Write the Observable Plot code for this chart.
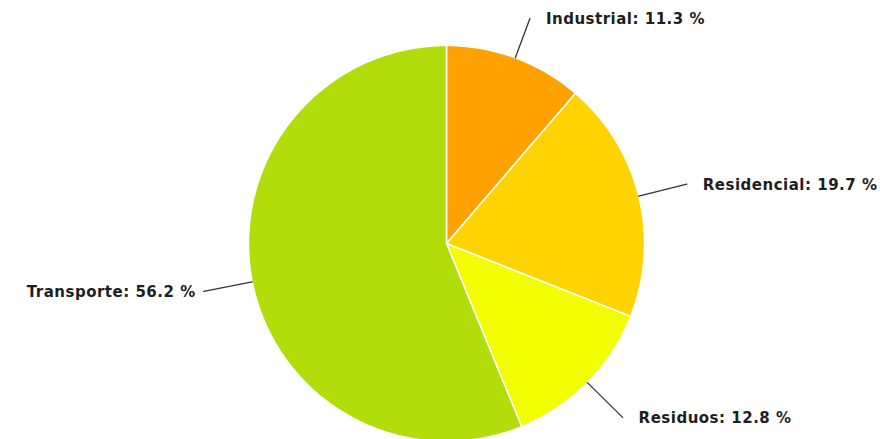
<!DOCTYPE html>
<html>
<head>
<meta charset="utf-8">
<script src="https://cdn.jsdelivr.net/npm/d3@7"></script>
<script src="https://cdn.jsdelivr.net/npm/@observablehq/plot@0.6"></script>
<style>
  html, body { margin: 0; padding: 0; background: #fff; }
  #chart svg { display: block; }
  #chart svg text { letter-spacing: 0.5px; }
</style>
</head>
<body>
<div id="chart"></div>
<script>
const categories = ["Industrial", "Residencial", "Residuos", "Transporte"];
const values = [11.3, 19.7, 12.8, 56.2];
const colors = ["#ffa200", "#ffd300", "#f3ff00", "#b1de0a"];

const R = 198, cx = 446, cy = 243, W = 880, H = 439;

// pie layout (clockwise from 12 o'clock, in data order)
const pie = d3.pie().sort(null).value(d => d.value);
const arcs = pie(categories.map((c, i) => ({name: c, value: values[i]})));

// slice polygons in unit-radius coordinates (y up)
const pt = (a, r) => [r * Math.sin(a), r * Math.cos(a)];
const slicePts = [];
arcs.forEach(a => {
  const n = Math.max(2, Math.ceil((a.endAngle - a.startAngle) / 0.01));
  slicePts.push({name: a.data.name, x: 0, y: 0});
  for (let k = 0; k <= n; k++) {
    const t = a.startAngle + (a.endAngle - a.startAngle) * k / n;
    const [x, y] = pt(t, 1);
    slicePts.push({name: a.data.name, x, y});
  }
});

// leader lines and labels (label kept inside the top edge)
const yTopLimit = (cy - 18) / R;
const leaders = [];
const labels = [];
arcs.forEach(a => {
  const m = (a.startAngle + a.endAngle) / 2;
  const [x0, y0] = pt(m, 1.0);
  let [x1, y1] = pt(m, 1.25);
  if (y1 > yTopLimit) {
    const r = yTopLimit / Math.cos(m);
    [x1, y1] = pt(m, r);
  }
  leaders.push({name: a.data.name, x: x0, y: y0}, {name: a.data.name, x: x1, y: y1});
  const right = Math.sin(m) >= 0;
  labels.push({
    x: x1, y: y1, right,
    text: `${a.data.name}: ${a.data.value.toFixed(1)} %`
  });
});

const textStyle = {fontSize: 15, fontWeight: "bold", fill: "#1e1e1e", fontFamily: "DejaVu Sans"};
const chart = Plot.plot({
  width: W, height: H,
  margin: 0,
  x: {domain: [-cx / R, (W - cx) / R], range: [0, W], axis: null},
  y: {domain: [cy / R, -(H - cy) / R], range: [0, H], axis: null},
  color: {domain: categories, range: colors},
  marks: [
    Plot.line(slicePts, {x: "x", y: "y", z: "name", fill: "name", stroke: "#ffffff", strokeWidth: 1.5, curve: "linear-closed", strokeLinejoin: "round"}),
    Plot.line(leaders, {x: "x", y: "y", z: "name", stroke: "#333", strokeWidth: 1.3}),
    Plot.text(labels.filter(d => d.right), {x: "x", y: "y", text: "text", textAnchor: "start", dx: 16, dy: 1, ...textStyle}),
    Plot.text(labels.filter(d => !d.right), {x: "x", y: "y", text: "text", textAnchor: "end", dx: -8, dy: 1, ...textStyle})
  ]
});
document.getElementById("chart").appendChild(chart);
</script>
</body>
</html>
